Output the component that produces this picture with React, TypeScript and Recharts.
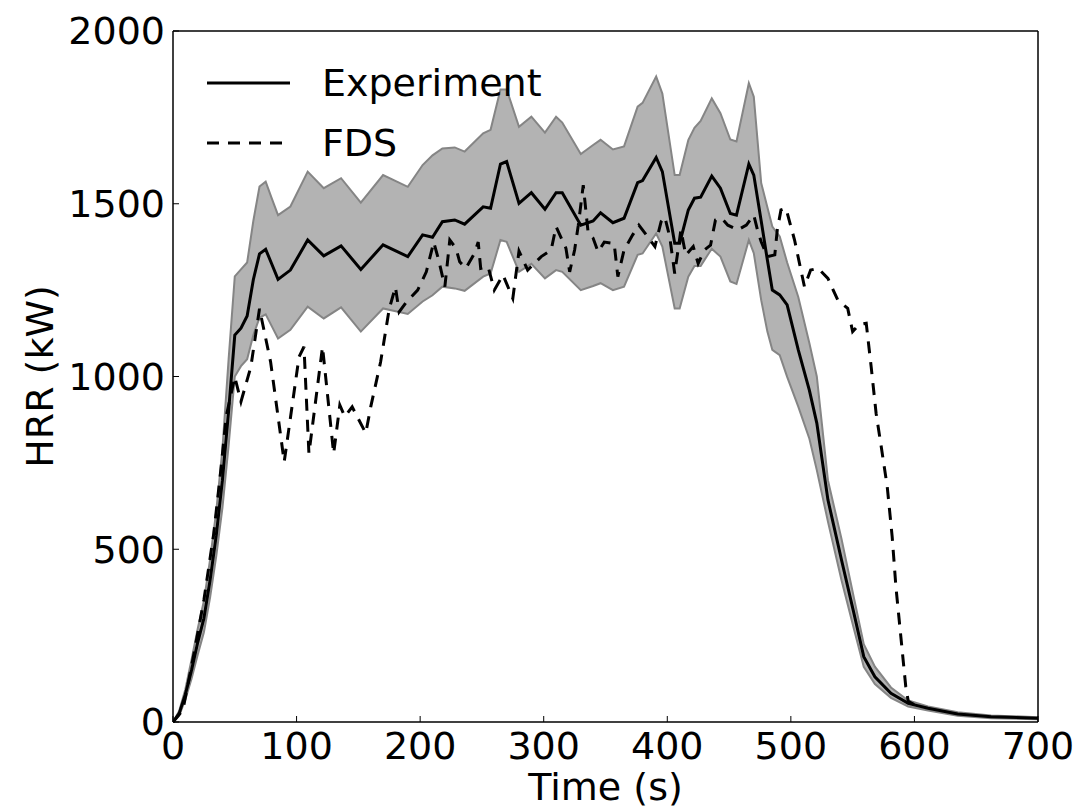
import React from 'react';
import { ComposedChart, XAxis, YAxis, Area, Line, Label } from 'recharts';

// Experiment: time (s), mean HRR, lower and upper bound of the uncertainty band (kW)
const expTime = [
  0, 5, 10, 15, 20, 25, 30, 35, 40, 45, 50, 55, 60, 65, 70, 75, 80, 85, 95, 109, 122, 136, 152, 170, 190, 202, 210,
  218, 228, 236, 251, 257, 265, 270, 280, 290, 301, 310, 315, 330, 340, 346, 356, 365, 376, 380, 391, 396, 406, 410,
  417, 422, 427, 436, 443, 451, 456, 466, 470, 476, 481, 485, 491, 497, 506, 515, 521, 530, 541, 551, 559, 568, 581,
  595, 611, 635, 662, 700,
];
const expMean = [
  0, 25, 80, 150, 230, 300, 410, 540, 700, 900, 1120, 1140, 1175, 1280, 1355, 1368, 1325, 1281, 1308, 1395, 1349,
  1378, 1310, 1381, 1347, 1410, 1403, 1448, 1453, 1441, 1491, 1487, 1615, 1622, 1501, 1532, 1484, 1532, 1532, 1438,
  1450, 1474, 1445, 1458, 1561, 1567, 1634, 1593, 1386, 1386, 1482, 1516, 1519, 1580, 1545, 1472, 1467, 1615, 1583,
  1450, 1337, 1250, 1236, 1207, 1077, 960, 865, 643, 469, 315, 189, 131, 83, 54, 40, 23, 15, 11,
];
const expLow = [
  0, 18, 65, 125, 195, 260, 360, 480, 620, 800, 1000, 1030, 1050, 1120, 1170, 1180, 1145, 1110, 1135, 1202, 1168,
  1200, 1130, 1197, 1181, 1217, 1235, 1260, 1255, 1248, 1289, 1298, 1395, 1390, 1303, 1326, 1284, 1308, 1303, 1250,
  1262, 1270, 1250, 1260, 1352, 1356, 1414, 1376, 1197, 1197, 1289, 1320, 1320, 1370, 1347, 1275, 1268, 1395, 1357,
  1221, 1130, 1077, 1062, 999, 913, 820, 729, 580, 410, 270, 160, 110, 70, 45, 33, 18, 11, 8,
];
const expHigh = [
  0, 32, 95, 180, 270, 350, 470, 610, 790, 1050, 1290, 1310, 1330, 1450, 1550, 1564, 1515, 1467, 1492, 1593, 1545,
  1574, 1503, 1583, 1549, 1612, 1640, 1660, 1663, 1651, 1704, 1714, 1831, 1831, 1723, 1752, 1706, 1752, 1735, 1644,
  1670, 1685, 1657, 1666, 1781, 1792, 1868, 1819, 1583, 1583, 1684, 1720, 1740, 1805, 1762, 1686, 1680, 1849, 1810,
  1560, 1490, 1434, 1405, 1330, 1230, 1096, 1000, 700, 530, 360, 225, 160, 100, 62, 45, 28, 19, 14,
];

// FDS simulation: time (s), HRR (kW)
const fdsTime = [
  0, 8, 17, 25, 33, 39, 43, 50, 55, 63, 70, 79, 90, 102, 106, 110, 121, 130, 135, 139, 145, 156, 160, 168, 175, 180,
  183, 189, 198, 205, 211, 215, 220, 224, 229, 232, 237, 244, 247, 249, 255, 260, 267, 275, 280, 287, 298, 306, 310,
  318, 321, 325, 328, 332, 336, 340, 344, 349, 357, 360, 365, 372, 377, 383, 390, 395, 398, 402, 406, 411, 415, 421,
  425, 430, 435, 439, 444, 449, 457, 464, 470, 473, 476, 481, 487, 489, 492, 496, 503, 507, 511, 516, 522, 530, 538,
  546, 550, 555, 561, 565, 569, 573, 578, 582, 585, 589, 593, 595, 600,
];
const fdsHrr = [
  0, 35, 199, 353, 546, 739, 884, 999, 927, 1028, 1196, 1042, 753, 1057, 1086, 777, 1086, 777, 917, 884, 912, 836,
  912, 1042, 1196, 1259, 1187, 1216, 1250, 1303, 1389, 1337, 1260, 1395, 1371, 1332, 1313, 1357, 1389, 1313, 1318,
  1250, 1294, 1226, 1363, 1308, 1347, 1366, 1434, 1371, 1303, 1366, 1438, 1554, 1414, 1400, 1361, 1389, 1385, 1289,
  1366, 1410, 1438, 1410, 1376, 1448, 1462, 1404, 1298, 1424, 1351, 1376, 1327, 1366, 1380, 1453, 1458, 1438, 1424,
  1438, 1467, 1424, 1390, 1347, 1352, 1424, 1482, 1487, 1395, 1327, 1260, 1308, 1313, 1284, 1221, 1197, 1130, 1150,
  1154, 1028, 893, 800, 681, 536, 392, 247, 102, 60, 50,
];

const xTicks = [0, 100, 200, 300, 400, 500, 600, 700];
const yTicks = [0, 500, 1000, 1500, 2000];

const font = '"DejaVu Sans", sans-serif';
const fontSize = 38;

const expData = expTime.map((t, i) => ({ t, mean: expMean[i], band: [expLow[i], expHigh[i]] }));
const fdsData = fdsTime.map((t, i) => ({ t, hrr: fdsHrr[i] }));

// legend drawn over the plot's upper left corner
const LegendBox = () => (
  <svg width={380} height={120} style={{ position: 'absolute', left: 200, top: 55, fontFamily: font }}>
    <line x1={7} y1={28} x2={90} y2={28} stroke="#000" strokeWidth={3} />
    <text x={122} y={41} fontSize={fontSize} fill="#000">Experiment</text>
    <line x1={7} y1={88} x2={90} y2={88} stroke="#000" strokeWidth={3} strokeDasharray="12 9" />
    <text x={122} y={101} fontSize={fontSize} fill="#000">FDS</text>
  </svg>
);

const YTitle = (props: any) => {
  const { viewBox } = props;
  const cx = 40;
  const cy = viewBox.y + viewBox.height / 2;
  return (
    <text x={cx} y={cy} transform={`rotate(-90, ${cx}, ${cy})`} textAnchor="middle" dominantBaseline="central"
      fontSize={fontSize} fontFamily={font} fill="#000">
      HRR (kW)
    </text>
  );
};

export default function App() {
  const tickStyle = { fontSize, fontFamily: font, fill: '#000' };
  const frame = { stroke: '#000', strokeWidth: 1.5 };
  return (
    <div style={{ position: 'absolute', left: 0, top: 0, width: 1086, height: 810, background: '#fff' }}>
      <ComposedChart width={1086} height={810} margin={{ top: 30, right: 47, bottom: 0, left: 0 }}>
        <XAxis xAxisId="b" dataKey="t" type="number" domain={[0, 700]} ticks={xTicks} allowDataOverflow
          height={88} tickSize={-6} tickMargin={16} tick={tickStyle} axisLine={frame} tickLine={{ stroke: '#000' }}>
          <Label value="Time (s)" position="insideBottom" offset={10} fontSize={fontSize} fontFamily={font} fill="#000" />
        </XAxis>
        <XAxis xAxisId="t" orientation="top" dataKey="t" type="number" domain={[0, 700]} ticks={xTicks} height={1}
          tickSize={-6} tick={false} axisLine={frame} tickLine={{ stroke: '#000' }} />
        <YAxis yAxisId="l" type="number" domain={[0, 2000]} ticks={yTicks} width={173} tickSize={-6} tickMargin={14}
          tick={tickStyle} axisLine={frame} tickLine={{ stroke: '#000' }}>
          <Label content={YTitle} />
        </YAxis>
        <YAxis yAxisId="r" orientation="right" type="number" domain={[0, 2000]} ticks={yTicks} width={1} tickSize={-6}
          tick={false} axisLine={frame} tickLine={{ stroke: '#000' }} />
        <Area xAxisId="b" yAxisId="l" data={expData} dataKey="band" type="linear" fill="#b3b3b3" fillOpacity={1}
          stroke="#858585" strokeWidth={2} isAnimationActive={false} />
        <Line xAxisId="b" yAxisId="l" data={fdsData} dataKey="hrr" type="linear" stroke="#000" strokeWidth={3}
          strokeDasharray="12 9" dot={false} isAnimationActive={false} />
        <Line xAxisId="b" yAxisId="l" data={expData} dataKey="mean" type="linear" stroke="#000" strokeWidth={3}
          dot={false} isAnimationActive={false} />
      </ComposedChart>
      <LegendBox />
    </div>
  );
}
